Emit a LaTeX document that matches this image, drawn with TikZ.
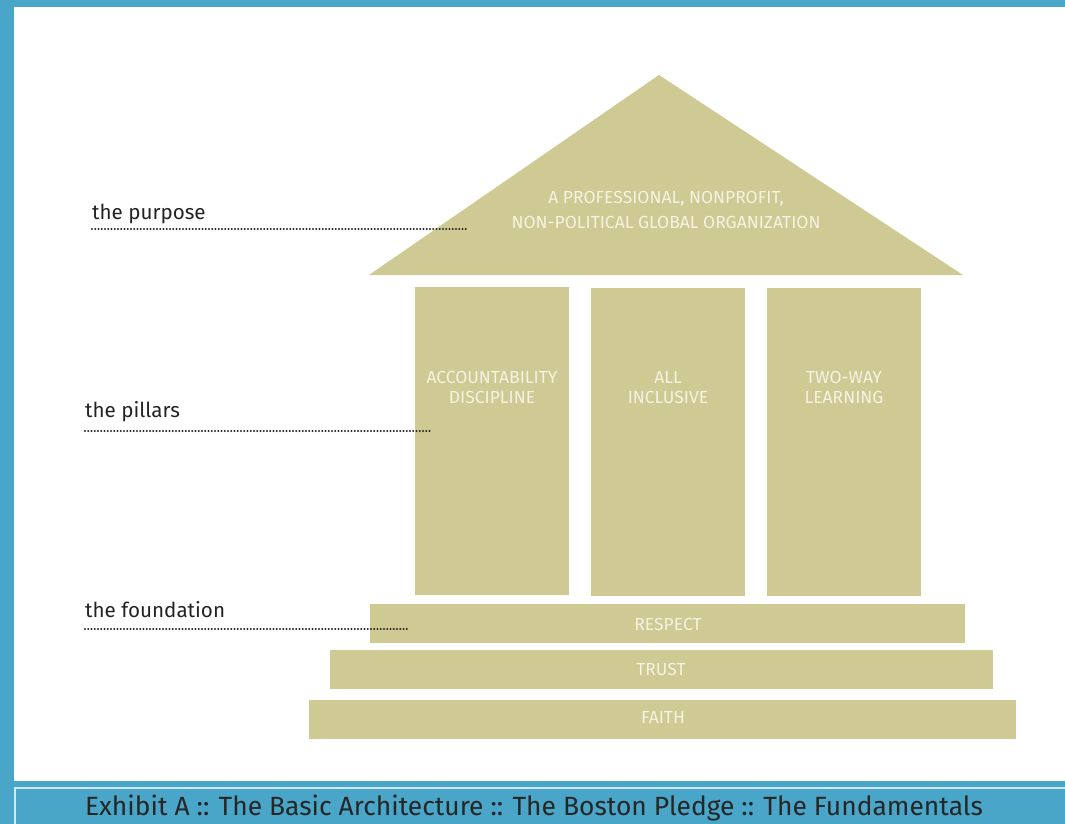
\documentclass[tikz,border=0pt]{standalone}
\usepackage{fontspec}
\setmainfont{Fira Sans}
\definecolor{frame}{HTML}{4AA6C8}
\definecolor{khaki}{HTML}{CFCA93}
\definecolor{ink}{HTML}{F4F2E2}
\definecolor{dark}{HTML}{222222}
\begin{document}
\begin{tikzpicture}[x=1pt,y=-1pt,
  block/.style={fill=khaki,draw=none},
  intext/.style={text=ink,font=\fontsize{17.5}{20}\selectfont,align=center,inner sep=0},
  lbl/.style={text=dark,font=\fontsize{20.6}{24}\selectfont,anchor=base west,inner sep=0},
  dotline/.style={draw=black!85,line width=2.3pt,line cap=round,dash pattern=on 0pt off 3.25pt}]
\useasboundingbox (0,0) rectangle (1065,824);
% frame
\fill[frame] (0,0) rectangle (1065,7);
\fill[frame] (0,0) rectangle (14,824);
\fill[frame] (0,781) rectangle (1065,824);
\draw[white!75!frame,line width=1.2pt] (15,826) -- (15,788) -- (1066,788);
\node[text=black!85,font=\fontsize{26.4}{28}\selectfont,inner sep=0] (cap) at (534,808) {Exhibit A :: The Basic Architecture :: The Boston Pledge :: The Fundamentals};
% roof
\fill[khaki] (659,75) -- (963,275) -- (369,275) -- cycle;
\node[intext,font=\fontsize{17.5}{25}\selectfont] (roof) at (666,210) {A PROFESSIONAL, NONPROFIT,\\NON-POLITICAL GLOBAL ORGANIZATION};
% pillars
\fill[block] (415,287) rectangle (569,595);
\fill[block] (591,288) rectangle (745,596);
\fill[block] (767,288) rectangle (921,596);
\node[intext] (p1) at (492,387) {ACCOUNTABILITY\\DISCIPLINE};
\node[intext] (p2) at (668,388) {ALL\\INCLUSIVE};
\node[intext] (p3) at (844,387) {TWO-WAY\\LEARNING};
% steps
\fill[block] (370,604) rectangle (965,643);
\fill[block] (330,650) rectangle (993,689);
\fill[block] (309,700) rectangle (1016,739);
\node[intext] (s1) at (668,624) {RESPECT};
\node[intext] (s2) at (661,669) {TRUST};
\node[intext] (s3) at (663,717) {FAITH};
% labels
\node[lbl] (l1) at (92,219) {the purpose};
\node[lbl] (l2) at (85,417) {the pillars};
\node[lbl] (l3) at (85,617) {the foundation};
\coordinate (e1) at (469,229);
\coordinate (e2) at (431,431);
\coordinate (e3) at (408,629);
\draw[dotline] (92,229) -- (e1);
\draw[dotline] (85,431) -- (e2);
\draw[dotline] (85,629) -- (e3);
\end{tikzpicture}
\end{document}
